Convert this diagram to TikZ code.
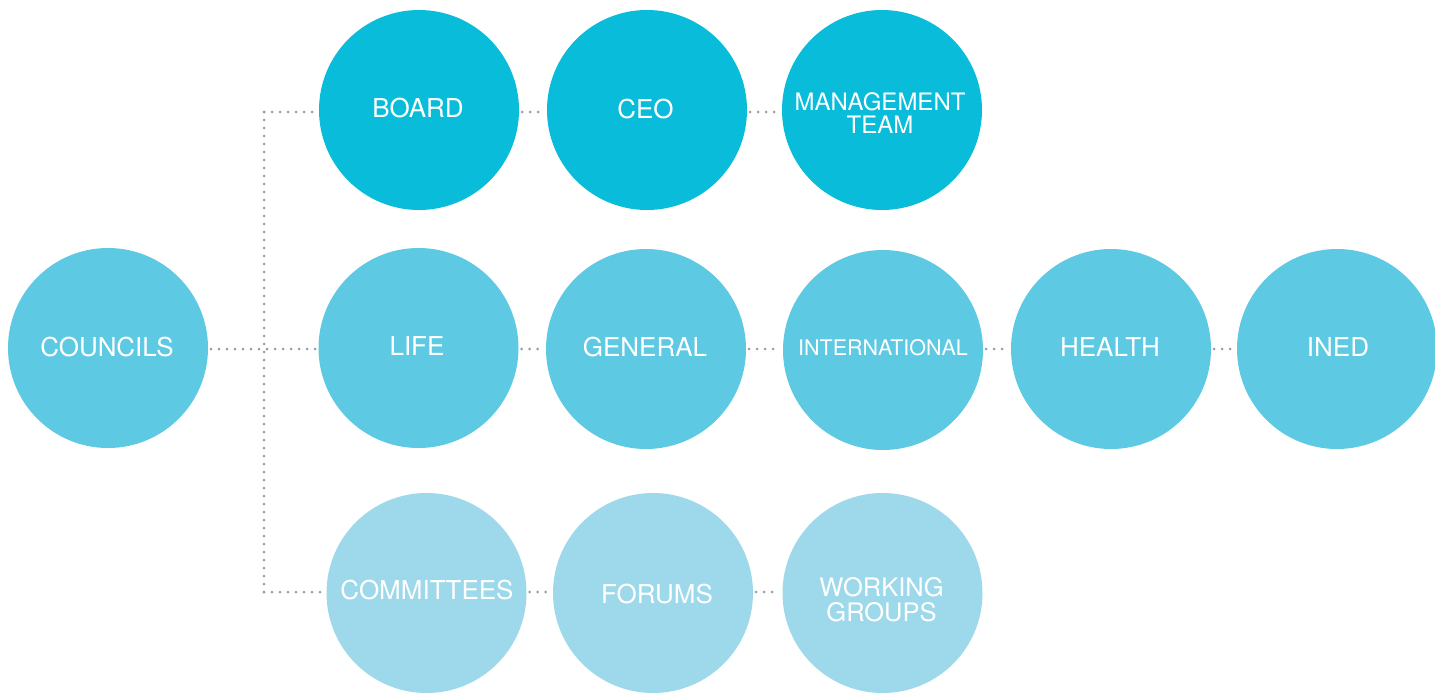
\documentclass[tikz,border=0pt]{standalone}
\usepackage{fontspec}
\setmainfont{TeX Gyre Heros}
\definecolor{topc}{HTML}{08BCDA}
\definecolor{midc}{HTML}{5DC9E3}
\definecolor{botc}{HTML}{9DD9EA}
\definecolor{dotc}{HTML}{9A9EA6}
\begin{document}
\begin{tikzpicture}[x=1pt,y=-1pt,
  circ/.style={circle,minimum size=200pt,inner sep=0pt,outer sep=3pt},
  ctop/.style={circ,fill=topc},
  cmid/.style={circ,fill=midc},
  cbot/.style={circ,fill=botc},
  lbl/.style={text=white,align=center,inner sep=0pt,font=\fontsize{26}{26}\selectfont},
  conn/.style={draw=dotc,line width=3pt,line cap=round,dash pattern=on 0pt off 8pt}]
\useasboundingbox (0,0) rectangle (1435,693);
% circles
\node[ctop] (board) at (419,110) {};
\node[ctop] (ceo) at (647,110) {};
\node[ctop] (mgmt) at (882,110) {};
\node[cmid] (councils) at (108,348) {};
\node[cmid] (life) at (418.5,348) {};
\node[cmid] (general) at (646,349) {};
\node[cmid] (intl) at (883,350) {};
\node[cmid] (health) at (1111,349) {};
\node[cmid] (ined) at (1337,349) {};
\node[cbot] (comm) at (426.5,593) {};
\node[cbot] (forums) at (653,593) {};
\node[cbot] (wg) at (882.5,593) {};
% labels
\node[lbl] (tboard) at (418,108.5) {BOARD};
\node[lbl] (tceo) at (645.5,109) {CEO};
\node[lbl,font=\fontsize{24}{23}\selectfont] (tmgmt) at (880,113) {MANAGEMENT\\TEAM};
\node[lbl] (tcouncils) at (107,347) {COUNCILS};
\node[lbl] (tlife) at (417,346.5) {LIFE};
\node[lbl] (tgeneral) at (645,347) {GENERAL};
\node[lbl,font=\fontsize{21.5}{21.5}\selectfont] (tintl) at (883,347.5) {INTERNATIONAL};
\node[lbl] (thealth) at (1110,347) {HEALTH};
\node[lbl] (tined) at (1338,347) {INED};
\node[lbl] (tcomm) at (427,590.5) {COMMITTEES};
\node[lbl] (tforums) at (657,594) {FORUMS};
\node[lbl,font=\fontsize{25.5}{25}\selectfont] (twg) at (881.5,600) {WORKING\\GROUPS};
% connector rows
\coordinate (ytop) at (0,112);
\coordinate (ymid) at (0,349);
\coordinate (ybot) at (0,592);
\coordinate (vtop) at (264,112);
\coordinate (vmid) at (264,349);
\coordinate (vbot) at (264,592);
% trunk
\draw[conn] (vtop) -- (vbot);
\draw[conn] (councils.east |- ymid) -- (vmid) -- (life.west |- ymid);
\draw[conn] (vtop) -- (board.west |- ytop);
\draw[conn] (vbot) -- (comm.west |- ybot);
% rows
\draw[conn] (board.east |- ytop) -- (ceo.west |- ytop);
\draw[conn] (ceo.east |- ytop) -- (mgmt.west |- ytop);
\draw[conn] (life.east |- ymid) -- (general.west |- ymid);
\draw[conn] (general.east |- ymid) -- (intl.west |- ymid);
\draw[conn] (intl.east |- ymid) -- (health.west |- ymid);
\draw[conn] (health.east |- ymid) -- (ined.west |- ymid);
\draw[conn] (comm.east |- ybot) -- (forums.west |- ybot);
\draw[conn] (forums.east |- ybot) -- (wg.west |- ybot);
\end{tikzpicture}
\end{document}
